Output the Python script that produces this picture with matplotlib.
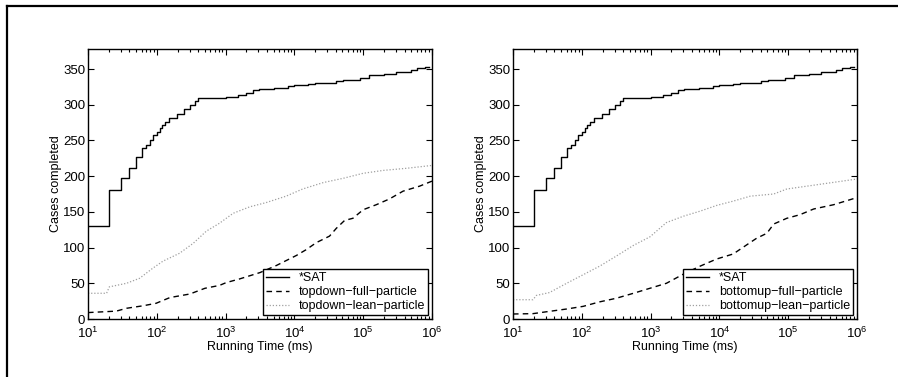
import matplotlib
matplotlib.use("Agg")
import matplotlib.pyplot as plt
import numpy as np
from matplotlib.lines import Line2D
from matplotlib.ticker import LogLocator, NullFormatter

plt.rcParams['font.family'] = ['Liberation Sans', 'DejaVu Sans']
plt.rcParams['mathtext.fontset'] = 'custom'
plt.rcParams['mathtext.rm'] = 'Liberation Sans'
plt.rcParams['mathtext.it'] = 'Liberation Sans'

# *SAT (same in both panels), step curve: log10(time) -> cases
sat_logx = [1.0, 1.30, 1.48, 1.60, 1.70, 1.78, 1.85, 1.90, 1.95, 2.0, 2.05, 2.08,
            2.12, 2.18, 2.30, 2.40, 2.48, 2.55, 2.60, 3.0, 3.18, 3.30, 3.40, 3.48,
            3.70, 3.90, 4.0, 4.20, 4.30, 4.60, 4.70, 4.95, 5.08, 5.30, 5.48, 5.70,
            5.78, 5.90]
sat_y = [130, 180, 197, 212, 227, 239, 244, 251, 258, 262, 268, 272,
         276, 281, 287, 294, 300, 305, 309, 311, 314, 316, 320, 322,
         323, 326, 327, 329, 331, 333, 335, 338, 341, 343, 346, 348,
         351, 353]

# left panel (topdown)
td_full_logx = [1.0, 1.41, 1.56, 1.80, 1.99, 2.19, 2.48, 2.70, 2.91, 3.01, 3.20,
                3.50, 3.74, 4.03, 4.17, 4.32, 4.51, 4.61, 4.73, 4.85, 5.0, 5.19,
                5.38, 5.58, 5.82, 6.0]
td_full_y = [9, 11, 15, 18.5, 22, 30, 35, 43, 47, 51, 56,
             65, 75, 89, 97, 107, 116, 127, 138, 141, 153, 160,
             168, 179, 186, 193]
td_lean_logx = [1.0, 1.27, 1.31, 1.56, 1.75, 1.94, 2.09, 2.33, 2.53, 2.72, 2.91,
                3.11, 3.35, 3.59, 3.88, 4.12, 4.42, 4.71, 5.0, 5.29, 5.63, 6.0]
td_lean_y = [36, 36, 45, 50, 57, 71, 81, 92, 106, 123, 134,
             148, 157, 163, 172, 182, 191, 197, 204, 208, 211, 215]

# right panel (bottomup)
bu_full_logx = [1.0, 1.29, 1.53, 1.78, 2.02, 2.26, 2.50, 2.75, 2.99, 3.23, 3.48,
                3.72, 3.96, 4.20, 4.40, 4.54, 4.69, 4.79, 4.98, 5.17, 5.37, 5.66, 6.0]
bu_full_y = [7, 7.5, 10.7, 14, 17.7, 24, 29, 36, 43, 50, 63,
             74, 84, 91, 104, 113, 120, 133, 141, 146, 154, 160, 170]
bu_lean_logx = [1.0, 1.29, 1.34, 1.53, 1.78, 2.02, 2.26, 2.50, 2.75, 2.99, 3.23,
                3.48, 3.72, 3.96, 4.20, 4.45, 4.79, 4.98, 5.42, 6.0]
bu_lean_y = [27, 27, 33, 37, 50, 62, 74, 88, 103, 115, 135,
             144, 151, 159, 165, 172, 175, 182, 188, 196]

panels = [
    ('topdown', td_full_logx, td_full_y, td_lean_logx, td_lean_y),
    ('bottomup', bu_full_logx, bu_full_y, bu_lean_logx, bu_lean_y),
]

fig = plt.figure(figsize=(8.98, 3.77), dpi=100)
W, H = 898.0, 377.0
lefts = [88, 513]

for left, (name, fx, fy, lx, ly) in zip(lefts, panels):
    ax = fig.add_axes([left / W, 1 - 319 / H, 344 / W, 270 / H])
    ax.plot(10 ** np.array(sat_logx + [5.95]), sat_y + [sat_y[-1]],
            color='black', lw=1.0, drawstyle='steps-post', label='*SAT')
    ax.plot(10 ** np.array(fx), fy, color='black', lw=1.0, ls=(0, (4, 3)),
            label=f'{name}\u2212full\u2212particle')
    ax.plot(10 ** np.array(lx), ly, color='#a0a0a0', lw=0.9, ls=(0, (1, 1.5)),
            label=f'{name}\u2212lean\u2212particle')
    ax.set_xscale('log')
    ax.set_xlim(10, 1e6)
    ax.set_ylim(0, 378)
    ax.set_yticks([0, 50, 100, 150, 200, 250, 300, 350])
    ax.xaxis.set_minor_locator(LogLocator(base=10, subs=np.arange(2, 10), numticks=20))
    ax.xaxis.set_minor_formatter(NullFormatter())
    ax.tick_params(which='both', direction='in', top=True, right=True,
                   labelsize=9.5, width=0.8)
    ax.tick_params(which='major', length=4)
    ax.tick_params(which='minor', length=2)
    ax.tick_params(axis='x', pad=5)
    ax.tick_params(axis='y', pad=2)
    for s in ax.spines.values():
        s.set_linewidth(1.0)
    ax.set_xlabel('Running Time (ms)', fontsize=9, labelpad=0)
    ax.set_ylabel('Cases completed', fontsize=9, labelpad=1)
    leg = ax.legend(loc='lower right', fontsize=9, fancybox=False, framealpha=1,
                    edgecolor='black', borderpad=0.25, labelspacing=0.15,
                    handlelength=1.8, handletextpad=0.8, borderaxespad=0.3)
    leg.get_frame().set_linewidth(1.0)

# outer frame lines (top and left)
fig.add_artist(Line2D([6.5 / W, 1.0], [1 - 6 / H, 1 - 6 / H], color='black', lw=1.6,
                      transform=fig.transFigure))
fig.add_artist(Line2D([7 / W, 7 / W], [0, 1 - 5.5 / H], color='black', lw=1.6,
                      transform=fig.transFigure))

fig.savefig('out.png', dpi=100)
